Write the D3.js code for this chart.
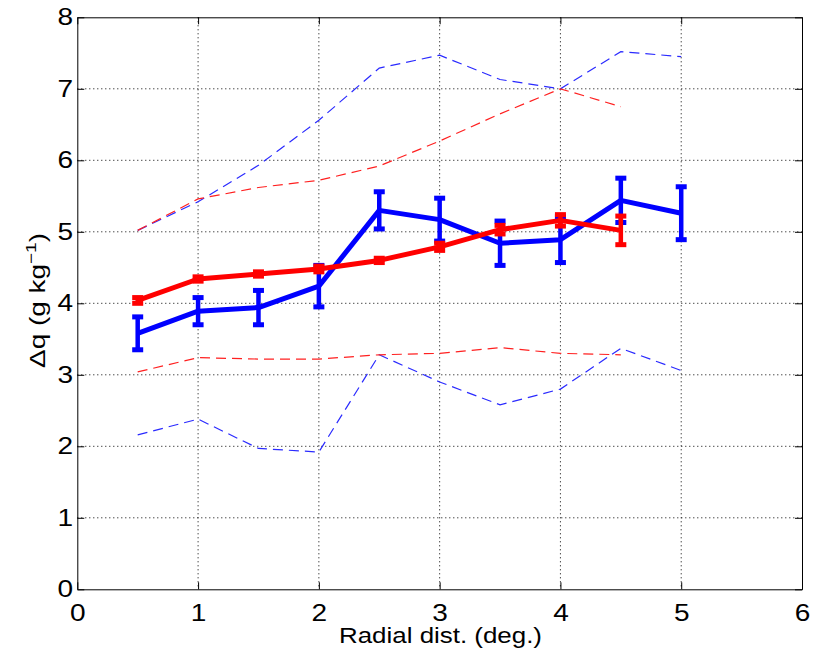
<!DOCTYPE html>
<html lang="en">
<head>
  <meta charset="UTF-8">
  <title>Delta q vs radial distance</title>
  <script src="https://d3js.org/d3.v7.min.js"></script>
  <style>
    body { margin: 0; background: #fff; }
    text { font-family: Arial, "Liberation Sans", sans-serif; fill: #000; }
  </style>
</head>
<body>
<div class="main"></div>
<script>
  let width = 821;
  let height = 650;

  // data
  let xsBlue = [0.5, 1, 1.5, 2, 2.5, 3, 3.5, 4, 4.5, 5];
  let xsRed = [0.5, 1, 1.5, 2, 2.5, 3, 3.5, 4, 4.5];
  let blueMean = [3.58, 3.89, 3.94, 4.24, 5.30, 5.17, 4.84, 4.89, 5.44, 5.26];
  let blueErr = [0.23, 0.19, 0.24, 0.29, 0.26, 0.30, 0.31, 0.32, 0.31, 0.37];
  let blueUpper = [5.02, 5.42, 5.93, 6.56, 7.29, 7.47, 7.13, 7.0, 7.52, 7.45];
  let blueLower = [2.16, 2.38, 1.97, 1.92, 3.28, 2.90, 2.58, 2.80, 3.37, 3.06];
  let redMean = [4.04, 4.34, 4.41, 4.48, 4.60, 4.79, 5.03, 5.16, 5.02];
  let redErr = [0.04, 0.03, 0.03, 0.04, 0.03, 0.05, 0.06, 0.08, 0.20];
  let redUpper = [5.02, 5.46, 5.62, 5.72, 5.92, 6.27, 6.65, 7.0, 6.75];
  let redLower = [3.04, 3.24, 3.22, 3.22, 3.28, 3.30, 3.38, 3.30, 3.28];
  let xTicks = [0, 1, 2, 3, 4, 5, 6];
  let yTicks = [0, 1, 2, 3, 4, 5, 6, 7, 8];

  let plotLeft = 77.3, plotRight = 802, plotTop = 17.3, plotBottom = 589.3;

  let x = d3.scaleLinear().domain([0, 6]).range([plotLeft, plotRight]);
  let y = d3.scaleLinear().domain([0, 8]).range([plotBottom, plotTop]);

  let svg = d3.select(".main")
          .append("svg")
          .attr("width", width)
          .attr("height", height)
          .style("display", "block");

  svg.append("rect").attr("width", width).attr("height", height).attr("fill", "#fff");

  // grid
  let grid = svg.append("g").attr("stroke", "#000").attr("stroke-width", 1)
          .attr("stroke-dasharray", "1,3");
  grid.selectAll(".gx").data(xTicks.slice(1, -1)).join("line").attr("class", "gx")
          .attr("x1", d => x(d)).attr("x2", d => x(d))
          .attr("y1", plotTop).attr("y2", plotBottom);
  grid.selectAll(".gy").data(yTicks.slice(1, -1)).join("line").attr("class", "gy")
          .attr("x1", plotLeft).attr("x2", plotRight)
          .attr("y1", d => y(d)).attr("y2", d => y(d));

  // axes, ticks inward on all four sides
  let tickLen = 7;
  function drawAxis(axis, translate, labels) {
    let g = svg.append("g").attr("transform", translate).call(axis);
    g.select(".domain").attr("stroke", "#000").attr("stroke-width", 1);
    g.selectAll(".tick line").attr("stroke", "#000");
    if (!labels) g.selectAll(".tick text").remove();
    return g;
  }
  let xb = drawAxis(d3.axisBottom(x).tickValues(xTicks).tickFormat(d3.format("d"))
          .tickSizeInner(-tickLen).tickSizeOuter(0).tickPadding(15), `translate(0,${plotBottom})`, true);
  xb.selectAll(".tick text").style("font-size", "23px").attr("transform", "scale(1.22,1)");
  drawAxis(d3.axisTop(x).tickValues(xTicks).tickSizeInner(-tickLen).tickSizeOuter(0), `translate(0,${plotTop})`, false);
  let yl = drawAxis(d3.axisLeft(y).tickValues(yTicks).tickFormat(d3.format("d"))
          .tickSizeInner(-tickLen).tickSizeOuter(0).tickPadding(10), `translate(${plotLeft},0)`, true);
  yl.selectAll(".tick text").style("font-size", "23px")
          .attr("x", -3.5).attr("transform", "scale(1.22,1)");
  drawAxis(d3.axisRight(y).tickValues(yTicks).tickSizeInner(-tickLen).tickSizeOuter(0), `translate(${plotRight},0)`, false);

  // dashed envelopes
  let line = d3.line().x(d => x(d[0])).y(d => y(d[1]));
  function dashed(xs, ys, color) {
    svg.append("path")
            .attr("d", line(xs.map((v, i) => [v, ys[i]])))
            .attr("fill", "none").attr("stroke", color)
            .attr("stroke-width", 1.2).attr("stroke-dasharray", "10,6");
  }
  dashed(xsBlue, blueUpper, "#2a2aff");
  dashed(xsBlue, blueLower, "#2a2aff");
  dashed(xsRed, redUpper, "#ff2020");
  dashed(xsRed, redLower, "#ff2020");

  // mean lines with error bars
  function errLine(xs, mean, err, color) {
    let g = svg.append("g");
    g.append("path")
            .attr("d", line(xs.map((v, i) => [v, mean[i]])))
            .attr("fill", "none").attr("stroke", color)
            .attr("stroke-width", 5).attr("stroke-linejoin", "round");
    let bars = g.selectAll(".bar").data(xs.map((v, i) => ({x: v, m: mean[i], e: err[i]}))).join("g");
    bars.append("line")
            .attr("x1", d => x(d.x)).attr("x2", d => x(d.x))
            .attr("y1", d => y(d.m - d.e)).attr("y2", d => y(d.m + d.e))
            .attr("stroke", color).attr("stroke-width", 4.5);
    bars.append("rect")
            .attr("x", d => x(d.x) - 5.5).attr("y", d => y(d.m + d.e) - 2.5)
            .attr("width", 11).attr("height", 5).attr("fill", color);
    bars.append("rect")
            .attr("x", d => x(d.x) - 5.5).attr("y", d => y(d.m - d.e) - 2.5)
            .attr("width", 11).attr("height", 5).attr("fill", color);
  }
  errLine(xsBlue, blueMean, blueErr, "#0000ff");
  errLine(xsRed, redMean, redErr, "#ff0000");

  // axis labels
  svg.append("text")
          .attr("x", 339).attr("y", 643)
          .attr("textLength", 203).attr("lengthAdjust", "spacingAndGlyphs")
          .style("font-size", "22px")
          .text("Radial dist. (deg.)");

  let ylab = svg.append("text")
          .attr("transform", "translate(45,368) rotate(-90)")
          .attr("textLength", 135).attr("lengthAdjust", "spacingAndGlyphs")
          .style("font-size", "22px");
  ylab.append("tspan").text("\u0394q (g kg");
  ylab.append("tspan").attr("dy", -9).style("font-size", "15px").text("\u22121");
  ylab.append("tspan").attr("dy", 9).text(")");
</script>
</body>
</html>
